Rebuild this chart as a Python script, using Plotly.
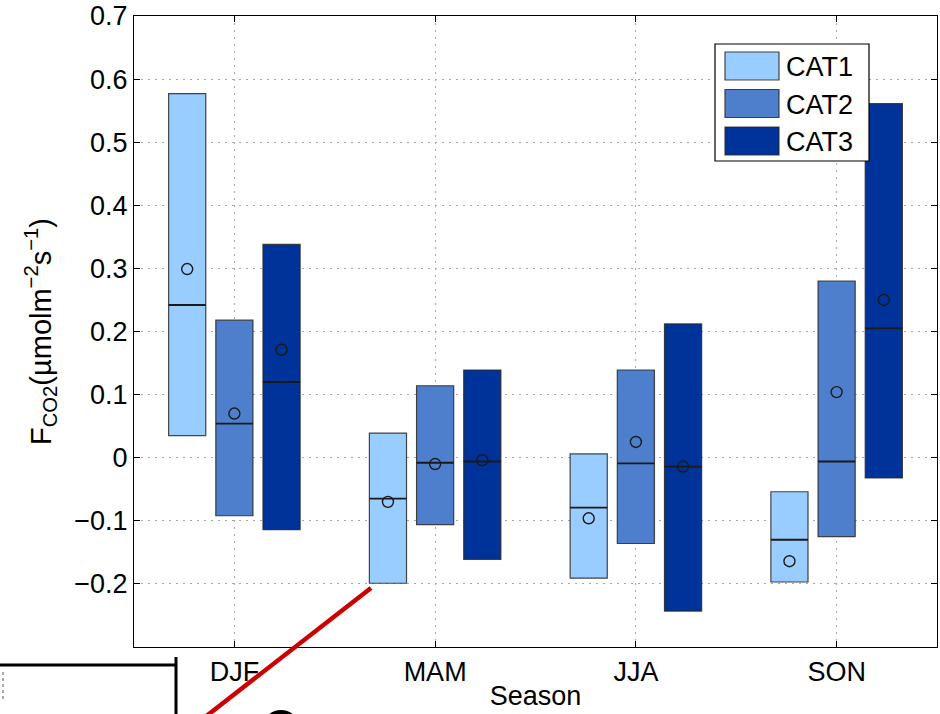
import numpy as np
import plotly.graph_objects as go

seasons = ["DJF", "MAM", "JJA", "SON"]
cats = ["CAT1", "CAT2", "CAT3"]
colors = ["#99ccff", "#4d7fcc", "#003399"]

# box top / bottom, median, mean per category (DJF, MAM, JJA, SON)
cat1_top = [0.577, 0.039, 0.006, -0.054]
cat1_bot = [0.035, -0.199, -0.191, -0.197]
cat1_med = [0.242, -0.065, -0.079, -0.130]
cat1_mean = [0.299, -0.070, -0.096, -0.164]

cat2_top = [0.218, 0.114, 0.139, 0.280]
cat2_bot = [-0.092, -0.106, -0.136, -0.125]
cat2_med = [0.054, -0.008, -0.009, -0.006]
cat2_mean = [0.070, -0.010, 0.025, 0.104]

cat3_top = [0.338, 0.139, 0.212, 0.561]
cat3_bot = [-0.114, -0.161, -0.243, -0.032]
cat3_med = [0.120, -0.006, -0.014, 0.205]
cat3_mean = [0.171, -0.004, -0.014, 0.250]

tops = [cat1_top, cat2_top, cat3_top]
bots = [cat1_bot, cat2_bot, cat3_bot]
meds = [cat1_med, cat2_med, cat3_med]
means = [cat1_mean, cat2_mean, cat3_mean]

y_ticks = [-0.2, -0.1, 0, 0.1, 0.2, 0.3, 0.4, 0.5, 0.6, 0.7]
y_ticktext = ["\u22120.2", "\u22120.1", "0", "0.1", "0.2", "0.3", "0.4", "0.5", "0.6", "0.7"]

offsets = [-0.235, 0.0, 0.235]
bw = 0.185
base_x = np.arange(1, len(seasons) + 1)

fig = go.Figure()
FONT = "Liberation Sans, Arial, sans-serif"
FS = 27

for k in range(3):
    xs = base_x + offsets[k]
    top = np.array(tops[k]); bot = np.array(bots[k])
    fig.add_trace(go.Bar(
        x=xs, y=top - bot, base=bot, width=bw, name=cats[k],
        marker=dict(color=colors[k], line=dict(color="rgba(40,40,40,0.85)", width=1.2)),
        showlegend=False))
    mx, my = [], []
    for i, c in enumerate(xs):
        mx += [c - bw / 2, c + bw / 2, None]
        my += [meds[k][i], meds[k][i], None]
    fig.add_trace(go.Scatter(x=mx, y=my, mode="lines",
                             line=dict(color="#1a1a1a", width=1.8),
                             showlegend=False, hoverinfo="skip"))
    fig.add_trace(go.Scatter(x=xs, y=means[k], mode="markers",
                             marker=dict(symbol="circle-open", size=11,
                                         color="#1a1a1a", line=dict(width=1.4)),
                             showlegend=False))

W, H = 940, 714
# plot area geometry in window pixels, for paper conversions
L, R, T, B = 134, 937, 16, 647
def px(x):
    return (x - L) / (R - L)
def py(y):
    return (B - y) / (B - T)

shapes = []
annotations = []
# custom legend
shapes.append(dict(type="rect", xref="paper", yref="paper",
                   x0=px(715), x1=px(869), y0=py(161), y1=py(44),
                   line=dict(color="black", width=1.2), fillcolor="white", layer="above"))
for k in range(3):
    y0 = 52 + 37.5 * k
    shapes.append(dict(type="rect", xref="paper", yref="paper",
                       x0=px(725), x1=px(779), y0=py(y0 + 28), y1=py(y0),
                       line=dict(color="rgba(40,40,40,0.85)", width=1.2),
                       fillcolor=colors[k], layer="above"))
    annotations.append(dict(xref="paper", yref="paper", x=px(784), y=py(y0 + 15),
                            text=cats[k], showarrow=False, xanchor="left", yanchor="middle",
                            font=dict(family=FONT, size=FS, color="black")))

# cropped artefacts outside the axes
shapes.append(dict(type="line", xref="paper", yref="paper",
                   x0=px(371), y0=py(588), x1=px(200), y1=py(721),
                   line=dict(color="#cc0000", width=4.5), layer="above"))
shapes.append(dict(type="line", xref="paper", yref="paper",
                   x0=px(-5), y0=py(665), x1=px(177), y1=py(665),
                   line=dict(color="black", width=3)))
shapes.append(dict(type="line", xref="paper", yref="paper",
                   x0=px(176), y0=py(657), x1=px(176), y1=py(720),
                   line=dict(color="black", width=3)))
shapes.append(dict(type="line", xref="paper", yref="paper",
                   x0=px(3), y0=py(672), x1=px(3), y1=py(702),
                   line=dict(color="#aaaaaa", width=2, dash="3px,3px")))
shapes.append(dict(type="circle", xref="paper", yref="paper",
                   x0=px(264), x1=px(298), y0=py(746), y1=py(712),
                   line=dict(color="black", width=4)))

fig.update_layout(
    width=W, height=H,
    margin=dict(l=L, r=W - R, t=T, b=H - B),
    paper_bgcolor="white", plot_bgcolor="white",
    font=dict(family=FONT, size=FS, color="black"),
    shapes=shapes, annotations=annotations,
    showlegend=False,
)
grid_dash = "2px,5px"
fig.update_xaxes(
    range=[0.5, 4.5], tickvals=list(base_x), ticktext=seasons,
    showline=True, mirror="ticks", linecolor="black", linewidth=1.2,
    ticks="inside", ticklen=6, tickcolor="black",
    showgrid=True, gridcolor="#a8a8a8", griddash=grid_dash, gridwidth=1.2,
    zeroline=False, automargin=False, ticklabeloverflow="allow",
    title=dict(text="Season", standoff=0, font=dict(size=FS)),
    tickfont=dict(size=FS),
)
fig.update_yaxes(
    range=[-0.3, 0.7], tickvals=y_ticks, ticktext=y_ticktext,
    showline=True, mirror="ticks", linecolor="black", linewidth=1.2,
    ticks="inside", ticklen=6, tickcolor="black",
    showgrid=True, gridcolor="#a8a8a8", griddash=grid_dash, gridwidth=1.2,
    zeroline=False, automargin=False, ticklabeloverflow="allow",
    title=dict(text="F<sub>CO2</sub>(\u00b5molm<sup>\u22122</sup>s<sup>\u22121</sup>)",
               standoff=14, font=dict(size=29)),
    tickfont=dict(size=FS),
)

fig.write_html("out.html", config={"displayModeBar": False},
               post_script="document.body.style.margin='0';document.body.style.overflow='hidden';")
